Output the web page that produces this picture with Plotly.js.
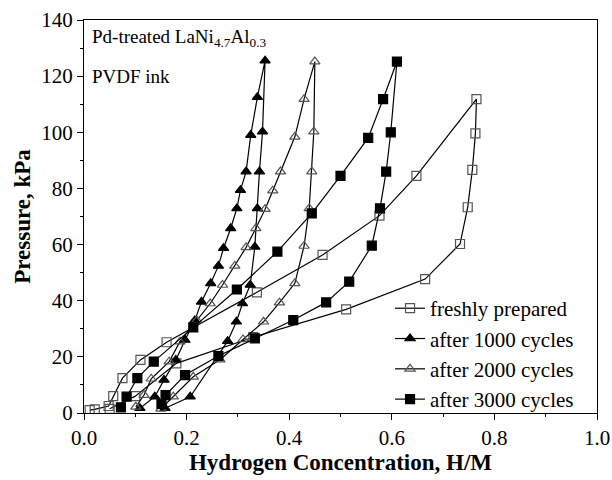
<!DOCTYPE html>
<html>
<head>
<meta charset="utf-8">
<script src="https://cdn.plot.ly/plotly-3.0.1.min.js"></script>
<style>html,body{margin:0;padding:0;background:#fff;}#chart{width:612px;height:480px;}</style>
</head>
<body>
<div id="chart"></div>
<script>
// Series names
var seriesNames = ['freshly prepared', 'after 1000 cycles', 'after 2000 cycles', 'after 3000 cycles'];

// Freshly prepared: absorption (up) then desorption (down)
var xFresh = [0.011, 0.021, 0.048, 0.057, 0.075, 0.11, 0.161, 0.337, 0.465, 0.576, 0.648, 0.765,
              0.763, 0.757, 0.748, 0.733, 0.665, 0.511, 0.33, 0.18, 0.10, 0.05];
var pFresh = [1.0, 1.3, 2.5, 6.0, 12.4, 18.9, 25.2, 43.0, 56.3, 70.3, 84.5, 111.8,
              99.6, 86.6, 73.3, 60.2, 47.7, 36.9, 27.0, 17.7, 6.0, 1.5];

// After 1000 cycles
var x1000 = [0.109, 0.138, 0.156, 0.179, 0.197, 0.216, 0.229, 0.247, 0.262, 0.272, 0.286, 0.298, 0.305, 0.316, 0.325, 0.338, 0.353,
             0.348, 0.342, 0.338, 0.333, 0.324, 0.309, 0.297, 0.280, 0.207, 0.158];
var p1000 = [1.7, 5.8, 11.8, 18.9, 26.0, 33.0, 39.6, 46.2, 52.4, 58.7, 65.8, 72.9, 79.4, 86.0, 99.0, 112.5, 125.5,
             100.2, 86.0, 72.9, 59.2, 45.6, 39.0, 32.5, 25.6, 5.8, 1.7];

// After 2000 cycles
var x2000 = [0.101, 0.117, 0.131, 0.166, 0.187, 0.220, 0.246, 0.270, 0.294, 0.316, 0.335, 0.353, 0.368, 0.383, 0.411, 0.429, 0.450,
             0.448, 0.444, 0.439, 0.429, 0.411, 0.381, 0.350, 0.310, 0.265, 0.213, 0.174, 0.150];
var p2000 = [2.2, 6.4, 12.2, 18.3, 25.4, 33.0, 39.0, 45.6, 52.4, 59.0, 65.8, 72.6, 79.2, 86.0, 98.4, 111.8, 125.2,
             100.2, 86.0, 72.9, 59.5, 46.2, 39.3, 32.5, 26.2, 19.0, 12.9, 5.8, 1.5];

// After 3000 cycles
var x3000 = [0.072, 0.083, 0.104, 0.136, 0.213, 0.298, 0.377, 0.444, 0.500, 0.554, 0.583, 0.610,
             0.598, 0.589, 0.577, 0.561, 0.517, 0.472, 0.408, 0.333, 0.262, 0.197, 0.159, 0.151];
var p3000 = [2.0, 5.8, 12.4, 18.3, 30.5, 44.0, 57.5, 71.1, 84.5, 98.0, 111.8, 125.2,
             100.0, 86.0, 72.9, 59.6, 46.8, 39.4, 33.1, 26.6, 20.3, 13.5, 6.4, 3.2];

var symbols = ['square-open', 'triangle-up', 'triangle-up-open', 'square'];
var markerColors = ['#555555', '#000000', '#555555', '#000000'];
var xs = [xFresh, x1000, x2000, x3000];
var ps = [pFresh, p1000, p2000, p3000];

var traces = [];
for (var i = 0; i < 4; i++) {
  traces.push({
    x: xs[i], y: ps[i], name: seriesNames[i],
    type: 'scatter', mode: 'lines+markers',
    line: {color: '#000', width: 1.2},
    marker: {symbol: symbols[i], size: 9, color: markerColors[i], line: {color: markerColors[i], width: 1.2}}
  });
}

var font = 'Liberation Serif, Times New Roman, serif';
var layout = {
  width: 612, height: 480,
  margin: {l: 84, r: 15, t: 20, b: 67},
  paper_bgcolor: '#fff', plot_bgcolor: '#fff',
  font: {family: font, size: 18, color: '#000'},
  showlegend: true,
  legend: {x: 0.965, xanchor: 'right', y: -0.018, yanchor: 'bottom', bgcolor: 'rgba(0,0,0,0)',
           font: {family: font, size: 21}, tracegroupgap: 0, itemwidth: 30},
  xaxis: {
    range: [0, 1], dtick: 0.2, tick0: 0, tickformat: '.1f',
    ticks: 'outside', ticklen: 6, tickwidth: 1, tickcolor: '#000',
    minor: {dtick: 0.1, ticks: 'outside', ticklen: 3, tickcolor: '#000'},
    showline: true, linecolor: '#000', linewidth: 1, mirror: true,
    showgrid: false, zeroline: false,
    tickfont: {family: font, size: 21},
    title: {text: '<b>Hydrogen Concentration, H/M</b>', font: {family: font, size: 23}, standoff: 0}
  },
  yaxis: {
    range: [0, 140], dtick: 20, tick0: 0,
    ticks: 'outside', ticklen: 6, tickwidth: 1, tickcolor: '#000',
    minor: {dtick: 10, ticks: 'outside', ticklen: 3, tickcolor: '#000'},
    showline: true, linecolor: '#000', linewidth: 1, mirror: true,
    showgrid: false, zeroline: false,
    tickfont: {family: font, size: 21},
    title: {text: '<b>Pressure, kPa</b>', font: {family: font, size: 23}, standoff: 4}
  },
  annotations: [
    {xref: 'paper', yref: 'paper', x: 0.012, y: 0.99, xanchor: 'left', yanchor: 'top', showarrow: false,
     text: 'Pd-treated LaNi<sub>4.7</sub>Al<sub>0.3</sub>', font: {family: font, size: 19}},
    {xref: 'paper', yref: 'paper', x: 0.012, y: 0.857, xanchor: 'left', yanchor: 'middle', showarrow: false,
     text: 'PVDF ink', font: {family: font, size: 19}}
  ]
};

Plotly.newPlot('chart', traces, layout, {displayModeBar: false, staticPlot: true});
</script>
</body>
</html>
